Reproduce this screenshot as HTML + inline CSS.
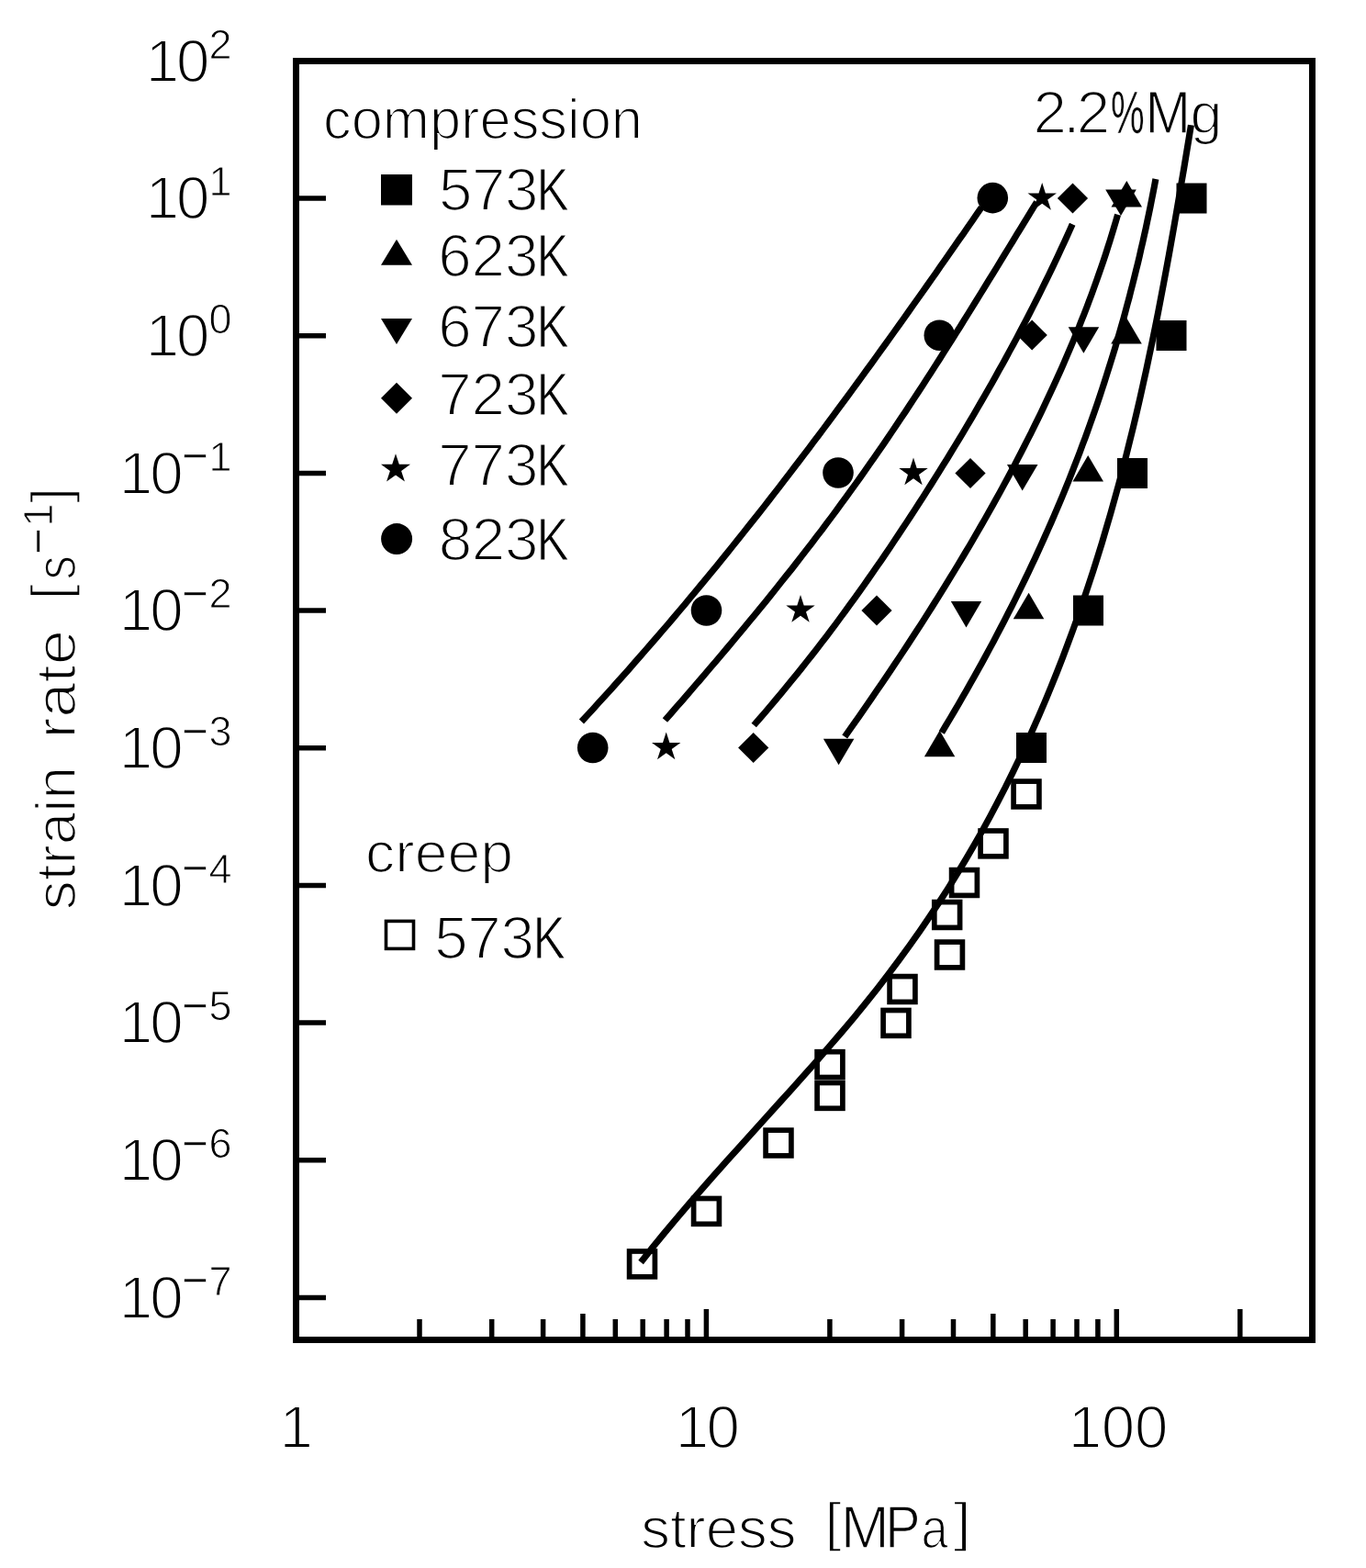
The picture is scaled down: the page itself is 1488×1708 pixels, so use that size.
<!DOCTYPE html>
<html><head><meta charset="utf-8"><title>strain rate vs stress, 2.2%Mg</title>
<style>
html,body{margin:0;padding:0;background:#fff;}
body{width:1488px;height:1708px;overflow:hidden;}
svg{display:block;}
text{font-family:"Liberation Sans",sans-serif;fill:#000;font-kerning:none;text-rendering:geometricPrecision;}
.t{font-size:65.5px;stroke:#fff;stroke-width:1.9px;vector-effect:non-scaling-stroke;}
.s{font-size:45px;stroke:#fff;stroke-width:1.0px;vector-effect:non-scaling-stroke;}
.m{font-size:49px;stroke:#fff;stroke-width:0.6px;}
</style></head><body>
<svg width="1488" height="1708" viewBox="0 0 1488 1708">
<rect x="0" y="0" width="1488" height="1708" fill="#fff"/>
<text class="t" transform="translate(158.76,88.51)" letter-spacing="-3.11">10</text>
<text class="s" x="227.57" y="63.51">2</text>
<text class="t" transform="translate(158.76,238.20)" letter-spacing="-3.11">10</text>
<text class="s" x="227.57" y="213.20">1</text>
<text class="t" transform="translate(158.76,387.89)" letter-spacing="-3.11">10</text>
<text class="s" x="227.57" y="362.89">0</text>
<text class="t" transform="translate(129.66,537.58)" letter-spacing="-2.91">10</text>
<text class="m" x="198.18" y="513.18">−</text>
<text class="s" x="227.57" y="512.58">1</text>
<text class="t" transform="translate(129.66,687.27)" letter-spacing="-2.91">10</text>
<text class="m" x="198.18" y="662.87">−</text>
<text class="s" x="227.57" y="662.27">2</text>
<text class="t" transform="translate(129.66,836.96)" letter-spacing="-2.91">10</text>
<text class="m" x="198.18" y="812.56">−</text>
<text class="s" x="227.57" y="811.96">3</text>
<text class="t" transform="translate(129.66,986.65)" letter-spacing="-2.91">10</text>
<text class="m" x="198.18" y="962.25">−</text>
<text class="s" x="227.57" y="961.65">4</text>
<text class="t" transform="translate(129.66,1136.34)" letter-spacing="-2.91">10</text>
<text class="m" x="198.18" y="1111.94">−</text>
<text class="s" x="227.57" y="1111.34">5</text>
<text class="t" transform="translate(129.66,1286.03)" letter-spacing="-2.91">10</text>
<text class="m" x="198.18" y="1261.63">−</text>
<text class="s" x="227.57" y="1261.03">6</text>
<text class="t" transform="translate(129.66,1435.72)" letter-spacing="-2.91">10</text>
<text class="m" x="198.18" y="1411.32">−</text>
<text class="s" x="227.57" y="1410.72">7</text>
<text class="t" transform="translate(304.56,1577.30)">1</text>
<text class="t" transform="translate(735.86,1577.30)" letter-spacing="-2.81">10</text>
<text class="t" transform="translate(1163.76,1577.30)" letter-spacing="-0.32">100</text>
<text class="t" transform="translate(698.18,1685.50) scale(0.9689,0.9400)">stress</text>
<text class="t" transform="translate(898.21,1678.35) scale(1.0141,0.8960)">[</text>
<text class="t" transform="translate(915.73,1685.50) scale(0.9722,1.0000)" style="stroke-width:1.50px">M</text>
<text class="t" transform="translate(964.33,1685.50) scale(0.8778,1.0000)" style="stroke-width:1.50px">P</text>
<text class="t" transform="translate(1003.52,1685.50) scale(0.8025,0.9400)">a</text>
<text class="t" transform="translate(1038.50,1678.35) scale(1.0755,0.8960)">]</text>
<text class="t" transform="translate(82.20,0) rotate(-90) translate(-991.23,0.00) scale(0.9754,0.9400)">strain</text>
<text class="t" transform="translate(82.20,0) rotate(-90) translate(-804.62,0.00) scale(1.0501,0.9400)">rate</text>
<text class="t" transform="translate(82.20,0) rotate(-90) translate(-653.43,-7.15) scale(0.9603,0.8960)">[</text>
<text class="t" transform="translate(82.20,0) rotate(-90) translate(-631.42,0.00) scale(0.8053,0.9400)">s</text>
<text class="m" transform="translate(57.90,0) rotate(-90) translate(-603.92,0)">−</text>
<text class="s" transform="translate(57.30,0) rotate(-90) translate(-573.43,0.00)">1</text>
<text class="t" transform="translate(82.20,0) rotate(-90) translate(-548.14,-7.15) scale(0.9526,0.8960)">]</text>
<text class="t" transform="translate(351.94,150.50) scale(0.9372,0.9400)">compression</text>
<text class="t" transform="translate(478.03,229.40)" letter-spacing="-0.49">573</text>
<text class="t" transform="translate(584.62,229.40) scale(0.8063,1.0000)" style="stroke-width:1.10px">K</text>
<text class="t" transform="translate(477.32,301.40)" letter-spacing="-0.14">623</text>
<text class="t" transform="translate(584.62,301.40) scale(0.8063,1.0000)" style="stroke-width:1.10px">K</text>
<text class="t" transform="translate(477.32,378.20)" letter-spacing="-0.14">673</text>
<text class="t" transform="translate(584.62,378.20) scale(0.8063,1.0000)" style="stroke-width:1.10px">K</text>
<text class="t" transform="translate(477.29,451.70)" letter-spacing="-0.12">723</text>
<text class="t" transform="translate(584.62,451.70) scale(0.8063,1.0000)" style="stroke-width:1.10px">K</text>
<text class="t" transform="translate(477.29,528.60)" letter-spacing="-0.12">773</text>
<text class="t" transform="translate(584.62,528.60) scale(0.8063,1.0000)" style="stroke-width:1.10px">K</text>
<text class="t" transform="translate(477.80,610.20)" letter-spacing="-0.38">823</text>
<text class="t" transform="translate(584.62,610.20) scale(0.8063,1.0000)" style="stroke-width:1.10px">K</text>
<text class="t" transform="translate(398.12,950.10) scale(0.9822,0.9400)">creep</text>
<text class="t" transform="translate(473.23,1043.80)" letter-spacing="-0.34">573</text>
<text class="t" transform="translate(580.59,1043.80) scale(0.8116,1.0000)" style="stroke-width:1.10px">K</text>
<text class="t" transform="translate(1125.46,145.10)" letter-spacing="-3.73">2.2</text>
<text class="t" transform="translate(1210.08,145.10) scale(0.6291,1.0000)" style="stroke-width:0.50px">%</text>
<text class="t" transform="translate(1247.38,145.10) scale(0.9061,1.0000)" style="stroke-width:1.30px">M</text>
<text class="t" transform="translate(1296.42,145.10) scale(0.9574,0.9400)">g</text>
<rect x="322.5" y="66.5" width="1107.0" height="1393.0" fill="none" stroke="#000" stroke-width="7"/>
<g stroke="#000" stroke-width="5.5" fill="none">
<line x1="322.5" y1="216.0" x2="355.0" y2="216.0"/>
<line x1="322.5" y1="365.7" x2="355.0" y2="365.7"/>
<line x1="322.5" y1="515.4" x2="355.0" y2="515.4"/>
<line x1="322.5" y1="665.1" x2="355.0" y2="665.1"/>
<line x1="322.5" y1="814.8" x2="355.0" y2="814.8"/>
<line x1="322.5" y1="964.5" x2="355.0" y2="964.5"/>
<line x1="322.5" y1="1114.1" x2="355.0" y2="1114.1"/>
<line x1="322.5" y1="1263.8" x2="355.0" y2="1263.8"/>
<line x1="322.5" y1="1413.5" x2="355.0" y2="1413.5"/>
<line x1="457.0" y1="1437.0" x2="457.0" y2="1459.5"/>
<line x1="535.7" y1="1437.0" x2="535.7" y2="1459.5"/>
<line x1="591.6" y1="1437.0" x2="591.6" y2="1459.5"/>
<line x1="634.9" y1="1431.0" x2="634.9" y2="1459.5"/>
<line x1="670.3" y1="1437.0" x2="670.3" y2="1459.5"/>
<line x1="700.2" y1="1437.0" x2="700.2" y2="1459.5"/>
<line x1="726.1" y1="1437.0" x2="726.1" y2="1459.5"/>
<line x1="749.0" y1="1437.0" x2="749.0" y2="1459.5"/>
<line x1="769.4" y1="1426.0" x2="769.4" y2="1459.5"/>
<line x1="903.9" y1="1437.0" x2="903.9" y2="1459.5"/>
<line x1="982.6" y1="1437.0" x2="982.6" y2="1459.5"/>
<line x1="1038.5" y1="1437.0" x2="1038.5" y2="1459.5"/>
<line x1="1081.8" y1="1431.0" x2="1081.8" y2="1459.5"/>
<line x1="1117.2" y1="1437.0" x2="1117.2" y2="1459.5"/>
<line x1="1147.1" y1="1437.0" x2="1147.1" y2="1459.5"/>
<line x1="1173.0" y1="1437.0" x2="1173.0" y2="1459.5"/>
<line x1="1195.9" y1="1437.0" x2="1195.9" y2="1459.5"/>
<line x1="1216.3" y1="1426.0" x2="1216.3" y2="1459.5"/>
<line x1="1350.8" y1="1426.0" x2="1350.8" y2="1459.5"/>
</g>
<g stroke="#000" stroke-width="7.1" fill="none" stroke-linecap="butt" stroke-linejoin="round">
<path d="M1069.1,226.0 L1064.2,233.1 L1059.3,240.2 L1054.4,247.3 L1049.5,254.4 L1044.5,261.4 L1039.6,268.5 L1034.7,275.6 L1029.7,282.7 L1024.7,289.8 L1019.8,296.9 L1014.8,304.0 L1009.8,311.1 L1004.8,318.2 L999.8,325.2 L994.8,332.3 L989.8,339.4 L984.8,346.5 L979.7,353.6 L974.6,360.7 L969.6,367.8 L964.5,374.9 L959.4,381.9 L954.3,389.0 L949.2,396.1 L944.0,403.2 L938.9,410.3 L933.7,417.4 L928.5,424.5 L923.3,431.6 L918.1,438.7 L912.9,445.7 L907.6,452.8 L902.4,459.9 L897.1,467.0 L891.8,474.1 L886.4,481.2 L881.1,488.3 L875.7,495.4 L870.3,502.5 L864.9,509.5 L859.5,516.6 L854.1,523.7 L848.6,530.8 L843.1,537.9 L837.6,545.0 L832.1,552.1 L826.5,559.2 L820.9,566.3 L815.3,573.3 L809.7,580.4 L804.0,587.5 L798.3,594.6 L792.6,601.7 L786.9,608.8 L781.1,615.9 L775.3,623.0 L769.5,630.1 L763.6,637.1 L757.7,644.2 L751.8,651.3 L745.9,658.4 L739.9,665.5 L733.9,672.6 L727.9,679.7 L721.8,686.8 L715.7,693.8 L709.6,700.9 L703.4,708.0 L697.2,715.1 L691.0,722.2 L684.8,729.3 L678.5,736.4 L672.1,743.5 L665.8,750.6 L659.4,757.6 L652.9,764.7 L646.5,771.8 L640.0,778.9 L633.4,786.0"/>
<path d="M1129.4,220.0 L1125.0,227.1 L1120.6,234.3 L1116.3,241.4 L1111.9,248.6 L1107.5,255.7 L1103.2,262.9 L1098.8,270.0 L1094.4,277.2 L1090.0,284.3 L1085.7,291.5 L1081.3,298.6 L1076.9,305.7 L1072.5,312.9 L1068.1,320.0 L1063.7,327.2 L1059.2,334.3 L1054.8,341.5 L1050.3,348.6 L1045.9,355.8 L1041.4,362.9 L1036.9,370.1 L1032.4,377.2 L1027.8,384.3 L1023.3,391.5 L1018.7,398.6 L1014.1,405.8 L1009.5,412.9 L1004.9,420.1 L1000.2,427.2 L995.5,434.4 L990.8,441.5 L986.1,448.7 L981.3,455.8 L976.5,462.9 L971.7,470.1 L966.9,477.2 L962.0,484.4 L957.1,491.5 L952.1,498.7 L947.1,505.8 L942.1,513.0 L937.1,520.1 L932.0,527.3 L926.8,534.4 L921.6,541.6 L916.4,548.7 L911.2,555.8 L905.9,563.0 L900.5,570.1 L895.2,577.3 L889.7,584.4 L884.3,591.6 L878.8,598.7 L873.2,605.9 L867.7,613.0 L862.1,620.2 L856.4,627.3 L850.7,634.4 L845.0,641.6 L839.3,648.7 L833.5,655.9 L827.7,663.0 L821.8,670.2 L815.9,677.3 L810.0,684.5 L804.1,691.6 L798.1,698.8 L792.1,705.9 L786.1,713.0 L780.0,720.2 L773.9,727.3 L767.8,734.5 L761.7,741.6 L755.5,748.8 L749.4,755.9 L743.2,763.1 L736.9,770.2 L730.7,777.4 L724.4,784.5"/>
<path d="M1168.2,244.2 L1165.1,251.1 L1162.0,258.0 L1158.8,264.9 L1155.6,271.8 L1152.4,278.7 L1149.1,285.7 L1145.8,292.6 L1142.5,299.5 L1139.1,306.4 L1135.7,313.3 L1132.3,320.2 L1128.8,327.1 L1125.3,334.0 L1121.8,340.9 L1118.2,347.8 L1114.6,354.7 L1110.9,361.7 L1107.3,368.6 L1103.6,375.5 L1099.8,382.4 L1096.1,389.3 L1092.3,396.2 L1088.4,403.1 L1084.6,410.0 L1080.7,416.9 L1076.8,423.8 L1072.8,430.7 L1068.8,437.6 L1064.8,444.6 L1060.8,451.5 L1056.7,458.4 L1052.6,465.3 L1048.5,472.2 L1044.3,479.1 L1040.1,486.0 L1035.9,492.9 L1031.7,499.8 L1027.4,506.7 L1023.1,513.6 L1018.7,520.6 L1014.4,527.5 L1010.0,534.4 L1005.6,541.3 L1001.1,548.2 L996.7,555.1 L992.2,562.0 L987.7,568.9 L983.1,575.8 L978.5,582.7 L973.9,589.6 L969.3,596.6 L964.6,603.5 L959.9,610.4 L955.1,617.3 L950.3,624.2 L945.5,631.1 L940.7,638.0 L935.8,644.9 L930.8,651.8 L925.8,658.7 L920.8,665.6 L915.7,672.5 L910.6,679.5 L905.4,686.4 L900.2,693.3 L894.9,700.2 L889.6,707.1 L884.2,714.0 L878.7,720.9 L873.3,727.8 L867.7,734.7 L862.1,741.6 L856.4,748.5 L850.7,755.5 L844.9,762.4 L839.1,769.3 L833.2,776.2 L827.2,783.1 L821.2,790.0"/>
<path d="M1217.6,233.8 L1215.5,240.9 L1213.4,248.1 L1211.2,255.3 L1209.0,262.5 L1206.7,269.7 L1204.4,276.9 L1202.0,284.1 L1199.5,291.3 L1197.0,298.5 L1194.5,305.7 L1191.9,312.9 L1189.3,320.1 L1186.6,327.3 L1183.9,334.5 L1181.1,341.7 L1178.2,348.9 L1175.4,356.1 L1172.4,363.3 L1169.5,370.5 L1166.5,377.7 L1163.4,384.9 L1160.3,392.1 L1157.2,399.3 L1154.0,406.5 L1150.7,413.7 L1147.4,420.9 L1144.1,428.1 L1140.7,435.3 L1137.3,442.5 L1133.9,449.7 L1130.4,456.9 L1126.8,464.1 L1123.3,471.3 L1119.6,478.5 L1116.0,485.7 L1112.3,492.9 L1108.5,500.1 L1104.8,507.3 L1101.0,514.5 L1097.1,521.7 L1093.2,528.9 L1089.3,536.1 L1085.3,543.3 L1081.3,550.5 L1077.2,557.7 L1073.2,564.9 L1069.0,572.1 L1064.9,579.3 L1060.7,586.5 L1056.5,593.7 L1052.2,600.9 L1047.9,608.1 L1043.6,615.3 L1039.2,622.5 L1034.8,629.7 L1030.4,636.9 L1025.9,644.1 L1021.4,651.3 L1016.9,658.5 L1012.4,665.7 L1007.8,672.9 L1003.2,680.1 L998.5,687.3 L993.8,694.5 L989.1,701.7 L984.4,708.9 L979.6,716.1 L974.8,723.3 L970.0,730.5 L965.1,737.7 L960.2,744.9 L955.3,752.1 L950.4,759.3 L945.4,766.5 L940.4,773.7 L935.4,780.9 L930.4,788.1 L925.3,795.3 L920.2,802.5"/>
<path d="M1258.9,195.0 L1257.5,202.6 L1256.0,210.3 L1254.5,217.9 L1253.0,225.5 L1251.4,233.2 L1249.8,240.8 L1248.2,248.4 L1246.5,256.1 L1244.8,263.7 L1243.0,271.3 L1241.3,279.0 L1239.5,286.6 L1237.6,294.2 L1235.7,301.9 L1233.8,309.5 L1231.8,317.1 L1229.9,324.8 L1227.8,332.4 L1225.8,340.0 L1223.7,347.7 L1221.5,355.3 L1219.3,362.9 L1217.1,370.6 L1214.9,378.2 L1212.6,385.8 L1210.2,393.5 L1207.8,401.1 L1205.4,408.7 L1203.0,416.4 L1200.5,424.0 L1198.0,431.6 L1195.4,439.3 L1192.8,446.9 L1190.1,454.5 L1187.4,462.2 L1184.7,469.8 L1181.9,477.4 L1179.0,485.1 L1176.2,492.7 L1173.3,500.3 L1170.3,507.9 L1167.3,515.6 L1164.3,523.2 L1161.2,530.8 L1158.1,538.5 L1154.9,546.1 L1151.7,553.7 L1148.4,561.4 L1145.1,569.0 L1141.7,576.6 L1138.3,584.3 L1134.9,591.9 L1131.4,599.5 L1127.9,607.2 L1124.3,614.8 L1120.7,622.4 L1117.0,630.1 L1113.3,637.7 L1109.6,645.3 L1105.8,653.0 L1102.0,660.6 L1098.1,668.2 L1094.2,675.9 L1090.2,683.5 L1086.2,691.1 L1082.2,698.8 L1078.1,706.4 L1074.0,714.0 L1069.8,721.7 L1065.6,729.3 L1061.3,736.9 L1057.0,744.6 L1052.7,752.2 L1048.3,759.8 L1043.9,767.5 L1039.4,775.1 L1034.9,782.7 L1030.3,790.4 L1025.8,798.0"/>
<path d="M1297.4,136.2 L1294.9,151.9 L1292.3,167.6 L1289.7,183.3 L1287.0,199.0 L1284.4,214.7 L1281.7,230.3 L1279.0,246.0 L1276.2,261.7 L1273.4,277.4 L1270.5,293.1 L1267.6,308.7 L1264.6,324.4 L1261.6,340.1 L1258.5,355.8 L1255.3,371.5 L1252.0,387.1 L1248.7,402.8 L1245.2,418.5 L1241.7,434.2 L1238.1,449.9 L1234.4,465.5 L1230.5,481.2 L1226.6,496.9 L1222.6,512.6 L1218.4,528.3 L1214.1,543.9 L1209.7,559.6 L1205.1,575.3 L1200.5,591.0 L1195.6,606.7 L1190.7,622.3 L1185.5,638.0 L1180.3,653.7 L1174.8,669.4 L1169.2,685.1 L1163.4,700.7 L1157.5,716.4 L1151.4,732.1 L1145.1,747.8 L1138.6,763.5 L1131.9,779.1 L1125.0,794.8 L1117.9,810.5 L1110.5,826.2 L1103.0,841.9 L1095.2,857.5 L1087.1,873.2 L1078.8,888.9 L1070.2,904.6 L1061.3,920.3 L1052.2,935.9 L1042.7,951.6 L1033.0,967.3 L1022.9,983.0 L1012.5,998.7 L1001.8,1014.4 L990.8,1030.0 L979.4,1045.7 L967.6,1061.4 L955.5,1077.1 L943.0,1092.8 L930.2,1108.4 L917.0,1124.1 L903.5,1139.8 L889.9,1155.5 L876.0,1171.2 L862.0,1186.8 L847.8,1202.5 L833.7,1218.2 L819.5,1233.9 L805.3,1249.6 L791.2,1265.2 L777.2,1280.9 L763.4,1296.6 L749.7,1312.3 L736.4,1328.0 L723.3,1343.6 L710.5,1359.3 L698.1,1375.0"/>
</g>
<g fill="#000"><rect x="1281.5" y="199.5" width="33.0" height="33.0"/>
<rect x="1259.5" y="349.0" width="33.0" height="33.0"/>
<rect x="1217.0" y="499.0" width="33.0" height="33.0"/>
<rect x="1169.0" y="648.5" width="33.0" height="33.0"/>
<rect x="1107.0" y="798.0" width="33.0" height="33.0"/>
<polygon points="1227.3,197.0 1244.0,225.5 1210.5,225.5"/>
<polygon points="1227.0,346.0 1243.8,374.5 1210.2,374.5"/>
<polygon points="1185.2,496.0 1202.0,524.5 1168.5,524.5"/>
<polygon points="1120.6,645.7 1137.3,674.2 1103.8,674.2"/>
<polygon points="1023.6,795.8 1040.3,824.3 1006.9,824.3"/>
<polygon points="1221.0,235.0 1237.8,206.5 1204.2,206.5"/>
<polygon points="1180.4,384.7 1197.2,356.2 1163.7,356.2"/>
<polygon points="1113.7,534.5 1130.5,506.0 1097.0,506.0"/>
<polygon points="1052.5,683.5 1069.2,655.0 1035.8,655.0"/>
<polygon points="913.6,833.3 930.4,804.8 896.9,804.8"/>
<polygon points="1168.5,199.4 1185.1,216.0 1168.5,232.6 1151.9,216.0"/>
<polygon points="1124.2,348.4 1140.8,365.0 1124.2,381.6 1107.6,365.0"/>
<polygon points="1057.0,498.9 1073.6,515.5 1057.0,532.1 1040.4,515.5"/>
<polygon points="955.0,648.4 971.6,665.0 955.0,681.6 938.4,665.0"/>
<polygon points="820.7,797.9 837.3,814.5 820.7,831.1 804.1,814.5"/>
<polygon points="1135.2,199.0 1138.9,210.4 1150.9,210.4 1141.2,217.4 1144.9,228.8 1135.2,221.8 1125.5,228.8 1129.2,217.4 1119.5,210.4 1131.5,210.4"/>
<polygon points="995.0,498.5 998.7,509.9 1010.7,509.9 1001.0,516.9 1004.7,528.3 995.0,521.3 985.3,528.3 989.0,516.9 979.3,509.9 991.3,509.9"/>
<polygon points="872.0,648.0 875.7,659.4 887.7,659.4 878.0,666.4 881.7,677.8 872.0,670.8 862.3,677.8 866.0,666.4 856.3,659.4 868.3,659.4"/>
<polygon points="725.7,797.5 729.4,808.9 741.4,808.9 731.7,815.9 735.4,827.3 725.7,820.3 716.0,827.3 719.7,815.9 710.0,808.9 722.0,808.9"/>
<circle cx="1081.3" cy="215.6" r="16.8"/>
<circle cx="1023.3" cy="365.2" r="16.8"/>
<circle cx="913.0" cy="515.0" r="16.8"/>
<circle cx="769.5" cy="665.0" r="16.8"/>
<circle cx="645.7" cy="814.5" r="16.8"/></g>
<g><rect x="1104.1" y="851.1" width="27.8" height="27.8" fill="none" stroke="#000" stroke-width="5.7"/>
<rect x="1068.1" y="905.0" width="27.8" height="27.8" fill="none" stroke="#000" stroke-width="5.7"/>
<rect x="1036.6" y="947.6" width="27.8" height="27.8" fill="none" stroke="#000" stroke-width="5.7"/>
<rect x="1017.8" y="982.6" width="27.8" height="27.8" fill="none" stroke="#000" stroke-width="5.7"/>
<rect x="1020.6" y="1026.1" width="27.8" height="27.8" fill="none" stroke="#000" stroke-width="5.7"/>
<rect x="969.1" y="1063.6" width="27.8" height="27.8" fill="none" stroke="#000" stroke-width="5.7"/>
<rect x="962.1" y="1100.5" width="27.8" height="27.8" fill="none" stroke="#000" stroke-width="5.7"/>
<rect x="890.1" y="1145.7" width="27.8" height="27.8" fill="none" stroke="#000" stroke-width="5.7"/>
<rect x="890.1" y="1179.5" width="27.8" height="27.8" fill="none" stroke="#000" stroke-width="5.7"/>
<rect x="834.1" y="1231.1" width="27.8" height="27.8" fill="none" stroke="#000" stroke-width="5.7"/>
<rect x="755.6" y="1305.5" width="27.8" height="27.8" fill="none" stroke="#000" stroke-width="5.7"/>
<rect x="685.6" y="1363.0" width="27.8" height="27.8" fill="none" stroke="#000" stroke-width="5.7"/></g>
<g fill="#000">
<rect x="415" y="190" width="34" height="33.5"/>
<polygon points="432.0,260.8 449.0,288.8 415.0,288.8"/>
<polygon points="432.0,375.0 449.0,347.0 415.0,347.0"/>
<polygon points="432.0,416.7 449.0,433.7 432.0,450.7 415.0,433.7"/>
<polygon points="431.0,494.2 434.8,505.8 447.0,505.8 437.1,513.0 440.9,524.6 431.0,517.4 421.1,524.6 424.9,513.0 415.0,505.8 427.2,505.8"/>
<circle cx="432.1" cy="587.1" r="17.0"/>
</g>
<rect x="420.5" y="1003.4" width="30" height="30" fill="none" stroke="#000" stroke-width="3.6"/>
</svg></body></html>
